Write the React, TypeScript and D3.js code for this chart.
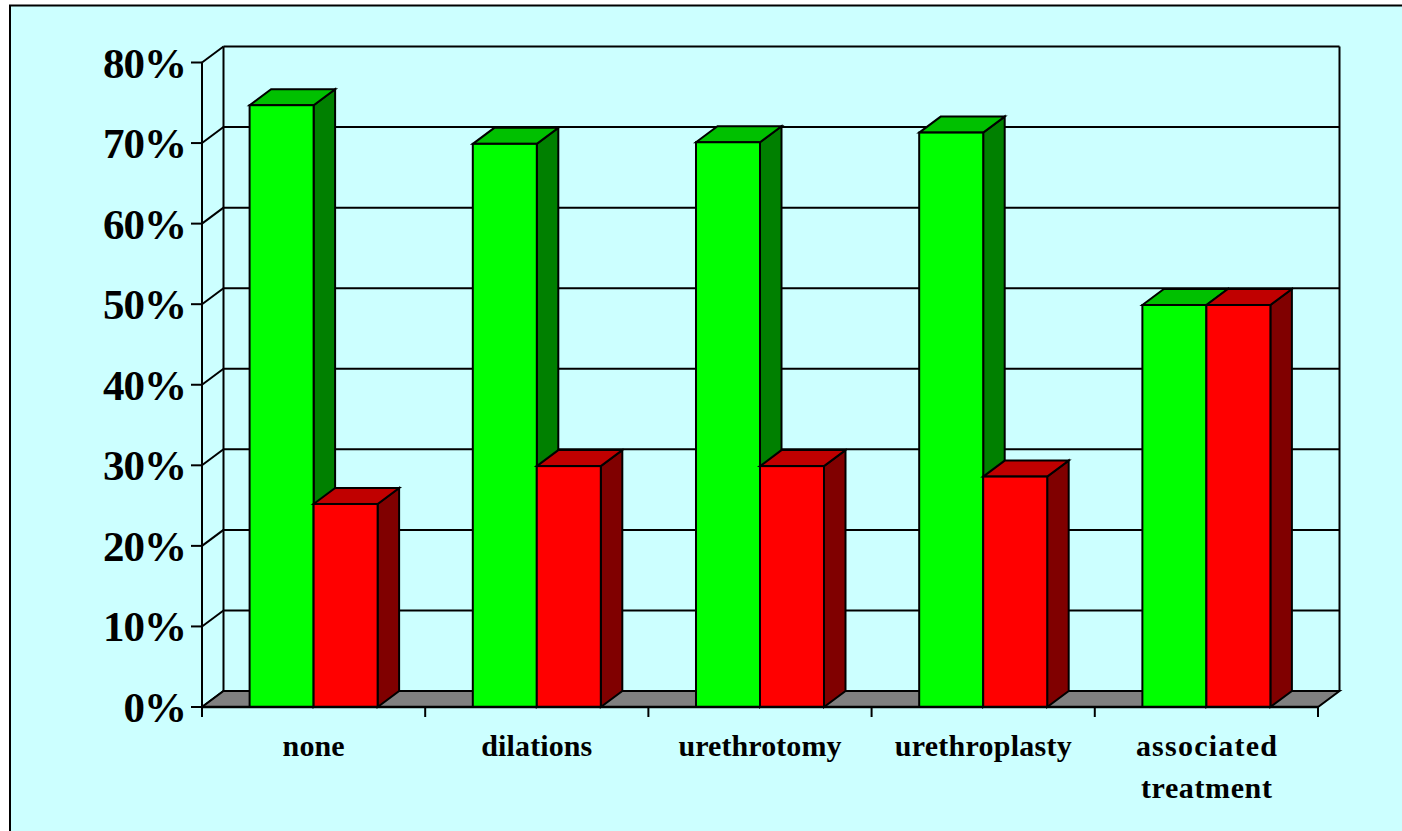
import React from 'react';
import * as d3 from 'd3';

const categories = ['none', 'dilations', 'urethrotomy', 'urethroplasty', 'associated treatment'];
const greenValues = [74.7, 69.9, 70.1, 71.3, 49.9];
const redValues = [25.2, 29.9, 29.9, 28.6, 49.9];
const yTicks = [0, 10, 20, 30, 40, 50, 60, 70, 80];
const seriesNames = ['green', 'red'];

const W = 1402;
const H = 831;
const DX = 21.5; // 3d depth
const DY = 16;
const BG = '#CCFFFF';
const SERIF = '"Liberation Serif", "Times New Roman", serif';

// the original's label runs are wider than the font's natural advance
const labelLength: Record<string, number> = {
  none: 62,
  dilations: 111,
  urethrotomy: 163,
  urethroplasty: 177,
  associated: 141,
  treatment: 131,
};

const shades: Record<string, { front: string; top: string; side: string }> = {
  green: { front: '#00FF00', top: '#00C000', side: '#008000' },
  red: { front: '#FF0000', top: '#C00000', side: '#800000' },
};

const x = d3.scaleBand<string>().domain(categories).range([202, 1318]).paddingInner(0.4265).paddingOuter(0.2133);
const sub = d3.scaleBand<string>().domain(seriesNames).range([0, x.bandwidth()]);
const y = d3.scaleLinear().domain([0, 80]).range([707, 62.5]);

const poly = (pts: [number, number][]) => d3.line()(pts) + 'Z';

function Bar({ cat, name, value }: { cat: string; name: string; value: number }) {
  const x0 = (x(cat) as number) + (sub(name) as number);
  const x1 = x0 + sub.bandwidth();
  const t = y(value);
  const b = y(0);
  const c = shades[name];
  return (
    <g stroke="#000" strokeWidth={2} strokeLinejoin="miter">
      <path d={poly([[x1, t], [x1 + DX, t - DY], [x1 + DX, b - DY], [x1, b]])} fill={c.side} />
      <path d={poly([[x0, t], [x0 + DX, t - DY], [x1 + DX, t - DY], [x1, t]])} fill={c.top} />
      <rect x={x0} y={t} width={x1 - x0} height={b - t} fill={c.front} />
    </g>
  );
}

export default function App() {
  const [xL, xR] = x.range();
  const yB = y(0);
  const yT = y(80);
  return (
    <svg width={W} height={H} style={{ position: 'fixed', left: 0, top: 0, display: 'block' }}>
      <rect x={0} y={0} width={W} height={H} fill="#fff" />
      <rect x={10} y={5.5} width={W + 20} height={H + 20} fill={BG} stroke="#000" strokeWidth={2} />

      {/* back wall + grid */}
      <g stroke="#000" strokeWidth={2} fill="none">
        <line x1={xL + DX} x2={xL + DX} y1={yT - DY} y2={yB - DY} />
        <line x1={xR + DX} x2={xR + DX} y1={yT - DY} y2={yB - DY} />
        {yTicks.map(t => (
          <g key={t}>
            <line x1={xL + DX} x2={xR + DX} y1={y(t) - DY} y2={y(t) - DY} />
            <line x1={xL} x2={xL + DX} y1={y(t)} y2={y(t) - DY} />
            <line x1={xL - 11} x2={xL} y1={y(t)} y2={y(t)} />
          </g>
        ))}
      </g>

      {/* floor */}
      <path
        d={poly([[xL, yB], [xL + DX, yB - DY], [xR + DX, yB - DY], [xR, yB]])}
        fill="#808080"
        stroke="#000"
        strokeWidth={2}
      />

      {categories.map((c, i) => (
        <g key={c}>
          <Bar cat={c} name="green" value={greenValues[i]} />
          <Bar cat={c} name="red" value={redValues[i]} />
        </g>
      ))}

      {/* front axes */}
      <g stroke="#000" strokeWidth={2}>
        <line x1={xL} x2={xL} y1={yT} y2={yB + 10} />
        <line x1={xL} x2={xR} y1={yB} y2={yB} strokeWidth={2.5} />
        {categories.map((c, i) => {
          const tx = xL + i * x.step() + x.step();
          return <line key={c} x1={tx} x2={tx} y1={yB} y2={yB + 10} />;
        })}
      </g>

      <g fontFamily={SERIF} fontWeight="bold" fontSize={43} letterSpacing={-1} textAnchor="end" fill="#000">
        {yTicks.map(t => (
          <text key={t} x={186} y={y(t) + 15}>{`${t}%`}</text>
        ))}
      </g>

      <g fontFamily={SERIF} fontWeight="bold" fontSize={30} textAnchor="middle" fill="#000">
        {categories.map(c => {
          const cx = (x(c) as number) + x.bandwidth() / 2;
          const words = c === 'associated treatment' ? ['associated', 'treatment'] : [c];
          return words.map((w, j) => (
            <text key={w} x={cx} y={756 + j * 42} textLength={labelLength[w]} lengthAdjust="spacing">{w}</text>
          ));
        })}
      </g>
    </svg>
  );
}
